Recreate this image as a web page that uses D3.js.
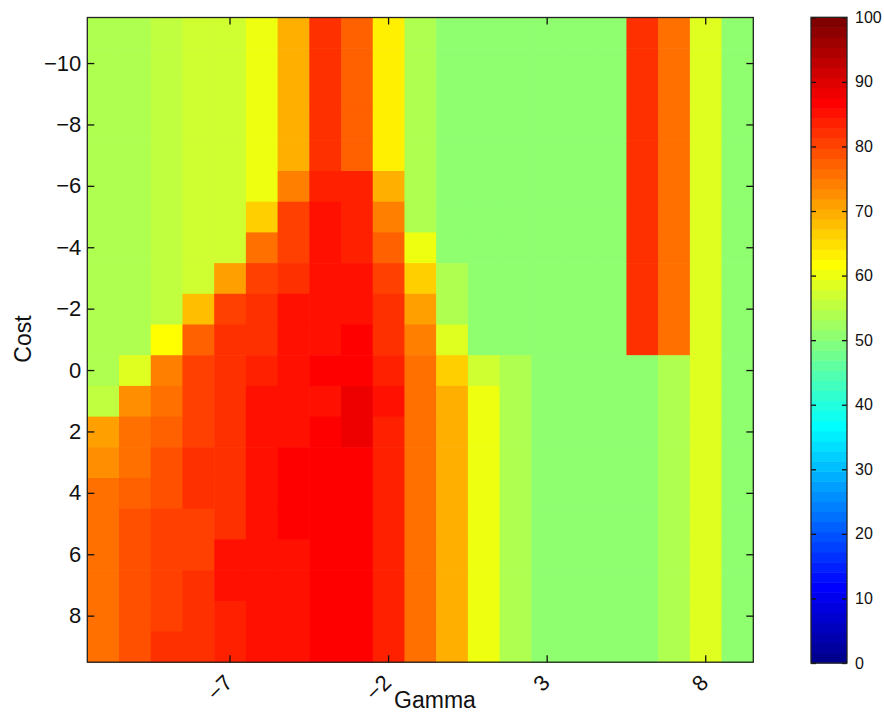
<!DOCTYPE html>
<html>
<head>
<meta charset="utf-8">
<script src="https://cdn.jsdelivr.net/npm/d3@7"></script>
<style>
	body { margin: 0; background: #fff; }
	text { font-family: "Liberation Sans", Arial, sans-serif; fill: #111; }
</style>
</head>
<body>
<div id="grid_search"></div>
<script>
const gammaValues = [-11, -10, -9, -8, -7, -6, -5, -4, -3, -2, -1, 0, 1, 2, 3, 4, 5, 6, 7, 8, 9]
const costValues = [-11, -10, -9, -8, -7, -6, -5, -4, -3, -2, -1, 0, 1, 2, 3, 4, 5, 6, 7, 8, 9]

// accuracy (%) : one row per cost value, one column per gamma value
const accuracy = [
	[53.9, 53.9, 55.5, 57, 57, 60.2, 69.5, 82, 77.3, 63.3, 53.9, 50, 50, 50, 50, 50, 50, 82, 75.8, 58.6, 50],
	[53.9, 53.9, 55.5, 57, 57, 60.2, 69.5, 82, 77.3, 63.3, 53.9, 50, 50, 50, 50, 50, 50, 82, 75.8, 58.6, 50],
	[53.9, 53.9, 55.5, 57, 57, 60.2, 69.5, 82, 77.3, 63.3, 53.9, 50, 50, 50, 50, 50, 50, 82, 75.8, 58.6, 50],
	[53.9, 53.9, 55.5, 57, 57, 60.2, 69.5, 82, 77.3, 63.3, 53.9, 50, 50, 50, 50, 50, 50, 82, 75.8, 58.6, 50],
	[53.9, 53.9, 55.5, 57, 57, 60.2, 69.5, 82, 77.3, 63.3, 53.9, 50, 50, 50, 50, 50, 50, 82, 75.8, 58.6, 50],
	[53.9, 53.9, 55.5, 57, 57, 60.2, 74.5, 83.6, 83.6, 68.8, 53.9, 50, 50, 50, 50, 50, 50, 82, 75.8, 58.6, 50],
	[53.9, 53.9, 55.5, 57, 57, 66.4, 80.5, 84.8, 83.6, 74.5, 53.9, 50, 50, 50, 50, 50, 50, 82, 75.8, 58.6, 50],
	[53.9, 53.9, 55.5, 57, 57, 76.5, 80.8, 84.8, 83.6, 77.3, 60.2, 50, 50, 50, 50, 50, 50, 82, 75.8, 58.6, 50],
	[53.9, 53.9, 55.5, 57, 71.1, 80.5, 82.3, 84.8, 85.2, 80.5, 66.4, 53.9, 50, 50, 50, 50, 50, 82, 75.8, 58.6, 50],
	[53.9, 53.9, 55.5, 68, 79.7, 82, 84.4, 85.5, 85.5, 82, 71.1, 53.9, 50, 50, 50, 50, 50, 82, 75.8, 58.6, 50],
	[53.9, 53.9, 61.7, 77.3, 82, 82.8, 84.8, 85.5, 86.7, 82.3, 74.2, 58.6, 50, 50, 50, 50, 50, 82, 75.8, 58.6, 50],
	[53.9, 58.6, 74.2, 80.5, 82.8, 83.2, 84.8, 86.7, 86.7, 83.6, 76.5, 66.4, 57.5, 53.9, 50, 50, 50, 50, 53.9, 58.6, 50],
	[56, 72.7, 76.5, 80.8, 82, 84.4, 85.2, 85.2, 88.3, 85.2, 76.5, 69.5, 60.2, 53.9, 50, 50, 50, 50, 53.9, 58.6, 50],
	[71.1, 75.8, 77.5, 80.8, 82, 84.4, 84.8, 86.5, 88.3, 83.6, 76.5, 69.5, 60.2, 53.9, 50, 50, 50, 50, 53.9, 58.6, 50],
	[73, 76.5, 79.5, 82.3, 82.8, 84.4, 86.5, 86.5, 86.7, 83.6, 76.5, 69.5, 60.2, 53.9, 50, 50, 50, 50, 53.9, 58.6, 50],
	[75.8, 78, 79.5, 82.3, 82.8, 84.4, 86.5, 86.5, 86.7, 83.6, 76.5, 69.5, 60.2, 53.9, 50, 50, 50, 50, 53.9, 58.6, 50],
	[76.5, 78.9, 81, 81.2, 82.8, 84.4, 86.5, 86.5, 86.7, 83.6, 76.5, 69.5, 60.2, 53.9, 50, 50, 50, 50, 53.9, 58.6, 50],
	[76.5, 78.9, 80, 81.2, 84.8, 85.2, 85.2, 86.5, 86.7, 83.6, 76.5, 69.5, 60.2, 53.9, 50, 50, 50, 50, 53.9, 58.6, 50],
	[76.5, 78.9, 80, 82.8, 84.8, 85.2, 85.2, 86.5, 86.7, 83.6, 76.5, 69.5, 60.2, 53.9, 50, 50, 50, 50, 53.9, 58.6, 50],
	[75, 78.9, 80, 82.8, 83.2, 85.2, 85.2, 86.5, 86.7, 83.6, 76.5, 69.5, 60.2, 53.9, 50, 50, 50, 50, 53.9, 58.6, 50],
	[75, 78.9, 81.5, 82.8, 83.2, 85.2, 85.2, 86.5, 86.7, 83.6, 76.5, 69.5, 60.2, 53.9, 50, 50, 50, 50, 53.9, 58.6, 50]
]

const gammaTicks = [-7, -2, 3, 8]
const costTicks = [-10, -8, -6, -4, -2, 0, 2, 4, 6, 8]
const colorbarTicks = [0, 10, 20, 30, 40, 50, 60, 70, 80, 90, 100]

// matlab jet(64), clim [0 100]
const nColors = 64
const jetIndex = v => Math.min(nColors, Math.floor(v / 100 * nColors) + 1)
const jet = i => {
	const t = i / nColors
	const c = a => Math.max(0, Math.min(1, a)) * 255
	return d3.rgb(c(1.5 - Math.abs(4 * t - 3)), c(1.5 - Math.abs(4 * t - 2)), c(1.5 - Math.abs(4 * t - 1)))
}

const minusFormat = d => d < 0 ? `\u2212${Math.abs(d)}` : `${d}`

const render = ({htmlComponent}) => {
	const width = 884
	const height = 715
	const plot = { left: 87.3, right: 753.3, top: 17.5, bottom: 662.2 }
	const bar = { left: 811, right: 847, top: 17.3, bottom: 663 }

	const svg = d3.select(htmlComponent).append('svg')
		.attr('width', width)
		.attr('height', height)

	const xScale = d3.scaleBand()
		.domain(gammaValues)
		.range([plot.left, plot.right])

	const yScale = d3.scaleBand()
		.domain(costValues)
		.range([plot.top, plot.bottom])

	const cells = accuracy.flatMap((row, r) => row.map((value, c) => ({
		gamma: gammaValues[c],
		cost: costValues[r],
		value
	})))

	svg.append('g').selectAll('rect').data(cells)
	.enter()
		.append('rect')
			.attr('x', d => xScale(d.gamma))
			.attr('y', d => yScale(d.cost))
			.attr('width', xScale.bandwidth() + 0.6)
			.attr('height', yScale.bandwidth() + 0.6)
			.attr('fill', d => jet(jetIndex(d.value)))

	const tickLen = 7

	// left / bottom axes with inside ticks, mirrored on top / right
	const leftAxis = svg.append('g')
		.attr('transform', `translate(${plot.left}, 0)`)
		.call(d3.axisLeft(yScale).tickValues(costTicks).tickFormat(minusFormat)
			.tickSize(-tickLen).tickSizeOuter(0).tickPadding(6))
	leftAxis.selectAll('text').style('font-size', '22px')

	svg.append('g')
		.attr('transform', `translate(${plot.right}, 0)`)
		.call(d3.axisRight(yScale).tickValues(costTicks).tickSize(-tickLen).tickSizeOuter(0).tickFormat(''))

	const bottomAxis = svg.append('g')
		.attr('transform', `translate(0, ${plot.bottom})`)
		.call(d3.axisBottom(xScale).tickValues(gammaTicks).tickFormat(minusFormat)
			.tickSize(-tickLen).tickSizeOuter(0))
	bottomAxis.selectAll('text')
		.attr('x', 0)
		.attr('y', 0)
		.attr('dy', 0)
		.attr('text-anchor', 'end')
		.attr('transform', 'translate(4, 22) rotate(-45)')
		.style('font-size', '22px')

	svg.append('g')
		.attr('transform', `translate(0, ${plot.top})`)
		.call(d3.axisTop(xScale).tickValues(gammaTicks).tickSize(-tickLen).tickSizeOuter(0).tickFormat(''))

	svg.selectAll('.domain').remove()
	svg.selectAll('.tick line').attr('stroke', '#111').attr('stroke-width', 1.3)

	svg.append('rect')
		.attr('x', plot.left)
		.attr('y', plot.top)
		.attr('width', plot.right - plot.left)
		.attr('height', plot.bottom - plot.top)
		.attr('fill', 'none')
		.attr('stroke', '#222')
		.attr('stroke-width', 1.3)

	svg.append('text')
		.attr('x', 435)
		.attr('y', 708)
		.attr('text-anchor', 'middle')
		.style('font-size', '23px')
		.text('Gamma')

	svg.append('text')
		.attr('transform', 'translate(31, 339) rotate(-90)')
		.attr('text-anchor', 'middle')
		.style('font-size', '23px')
		.text('Cost')

	// colorbar
	const barScale = d3.scaleLinear()
		.domain([0, 100])
		.range([bar.bottom, bar.top])

	const levels = d3.range(1, nColors + 1)
	svg.append('g').selectAll('rect').data(levels)
	.enter()
		.append('rect')
			.attr('x', bar.left)
			.attr('y', i => barScale(i * 100 / nColors))
			.attr('width', bar.right - bar.left)
			.attr('height', (bar.bottom - bar.top) / nColors + 0.5)
			.attr('fill', i => jet(i))

	const barAxis = svg.append('g')
		.attr('transform', `translate(${bar.right}, 0)`)
		.call(d3.axisRight(barScale).tickValues(colorbarTicks).tickSize(-5).tickSizeOuter(0).tickPadding(8))
	barAxis.select('.domain').remove()
	barAxis.selectAll('text').style('font-size', '16px')
	barAxis.selectAll('.tick line').attr('stroke', '#111').attr('stroke-width', 1.3)

	svg.append('g')
		.attr('transform', `translate(${bar.left}, 0)`)
		.call(d3.axisLeft(barScale).tickValues(colorbarTicks).tickSize(-5).tickSizeOuter(0).tickFormat(''))
		.call(g => g.select('.domain').remove())
		.selectAll('.tick line').attr('stroke', '#111').attr('stroke-width', 1.3)

	svg.append('rect')
		.attr('x', bar.left)
		.attr('y', bar.top)
		.attr('width', bar.right - bar.left)
		.attr('height', bar.bottom - bar.top)
		.attr('fill', 'none')
		.attr('stroke', '#222')
		.attr('stroke-width', 1.3)
}

render({ htmlComponent: '#grid_search' })
</script>
</body>
</html>
